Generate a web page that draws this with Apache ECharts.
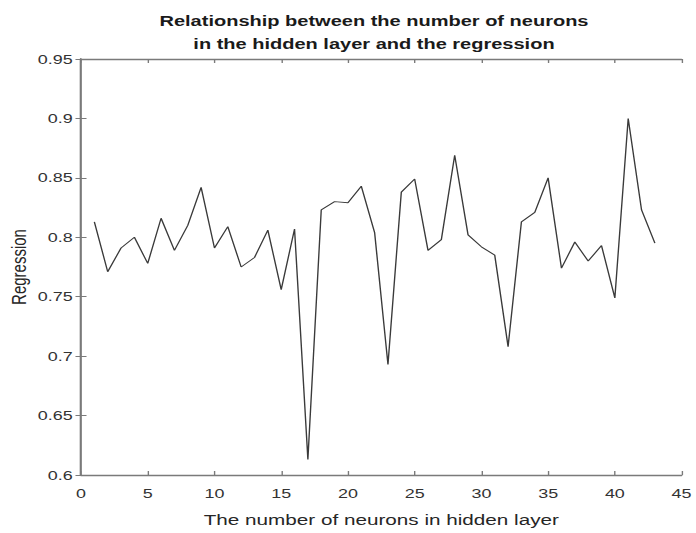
<!DOCTYPE html>
<html>
<head>
<meta charset="utf-8">
<script src="https://cdn.jsdelivr.net/npm/echarts@6/dist/echarts.min.js"></script>
<style>
  html, body { margin: 0; padding: 0; background: #fff; overflow: hidden; }
  /* the figure is drawn narrow and widened horizontally, like a stretched export */
  #chart { width: 504.35px; height: 533px; transform: scaleX(1.38); transform-origin: 0 0; }
</style>
</head>
<body>
<div id="chart"></div>
<script>
// Hidden-layer size vs. regression value of the trained network
const neurons = [1,2,3,4,5,6,7,8,9,10,11,12,13,14,15,16,17,18,19,20,21,22,23,24,25,26,27,28,29,30,31,32,33,34,35,36,37,38,39,40,41,42,43];
const regression = [0.813,0.771,0.791,0.800,0.778,0.816,0.789,0.810,0.842,0.791,0.809,0.775,0.783,0.806,0.756,0.807,0.613,0.823,0.830,0.829,0.843,0.804,0.693,0.838,0.849,0.789,0.798,0.869,0.802,0.792,0.785,0.708,0.813,0.821,0.850,0.774,0.796,0.780,0.793,0.749,0.900,0.823,0.795];
const xTicks = { min: 0, max: 45, interval: 5 };
const yTicks = { min: 0.6, max: 0.95, interval: 0.05 };

const font = 'Liberation Sans, Arial, sans-serif';
const axisColor = '#7a7a7a';
const chart = echarts.init(document.getElementById('chart'), null, { renderer: 'svg' });

// MATLAB-style box: all four sides drawn, ticks pointing into the plot
const boxAxis = {
  axisLine: { show: true, lineStyle: { color: axisColor, width: 1.3 } },
  axisTick: { show: true, inside: true, length: 4, lineStyle: { color: axisColor, width: 1 } },
  splitLine: { show: false }
};

chart.setOption({
  animation: false,
  backgroundColor: '#ffffff',
  title: {
    text: 'Relationship between the number of neurons\nin the hidden layer and the regression',
    left: 266, top: 5, textAlign: 'center',
    textStyle: { fontFamily: font, fontSize: 14.5, fontWeight: 'bold', color: '#1a1a1a', lineHeight: 23 }
  },
  grid: { left: 58.7, right: 10.1, top: 59, bottom: 58, containLabel: false, outerBoundsMode: 'none' },
  xAxis: [
    Object.assign({
      type: 'value', position: 'bottom',
      min: xTicks.min, max: xTicks.max, interval: xTicks.interval,
      name: 'The number of neurons in hidden layer',
      nameLocation: 'middle', nameGap: 38, nameMoveOverlap: false,
      nameTextStyle: { fontFamily: font, fontSize: 15, color: '#262626' },
      axisLabel: { fontFamily: font, fontSize: 13, color: '#333', margin: 12 }
    }, boxAxis),
    Object.assign({
      type: 'value', position: 'top',
      min: xTicks.min, max: xTicks.max, interval: xTicks.interval,
      axisLabel: { show: false }
    }, boxAxis)
  ],
  yAxis: [
    Object.assign({
      type: 'value', position: 'left',
      min: yTicks.min, max: yTicks.max, interval: yTicks.interval,
      name: 'Regression', nameLocation: 'middle', nameGap: 37, nameMoveOverlap: false,
      nameTextStyle: { fontFamily: font, fontSize: 15, color: '#262626' },
      axisLabel: { fontFamily: font, fontSize: 13, color: '#333', margin: 6,
        formatter: v => String(parseFloat(v.toFixed(2))) }
    }, boxAxis),
    Object.assign({
      type: 'value', position: 'right',
      min: yTicks.min, max: yTicks.max, interval: yTicks.interval,
      axisLabel: { show: false }
    }, boxAxis)
  ],
  series: [{
    type: 'line',
    data: neurons.map((n, i) => [n, regression[i]]),
    showSymbol: false,
    lineStyle: { color: '#3a3a3a', width: 1 },
    z: 3
  }]
});
</script>
</body>
</html>
